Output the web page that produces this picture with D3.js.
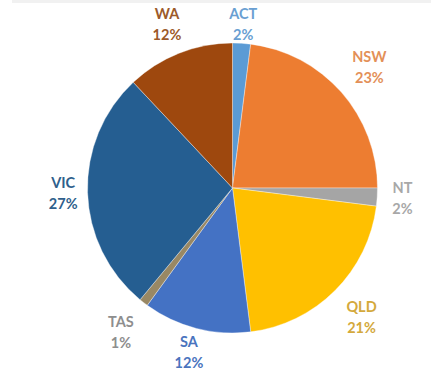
<!DOCTYPE html>
<html>
<head>
<meta charset="utf-8">
<script src="https://cdn.jsdelivr.net/npm/d3@7"></script>
<style>
  html, body { margin: 0; padding: 0; background: #ffffff; }
  svg { display: block; }
</style>
</head>
<body>
<svg id="chart" width="431" height="373"></svg>
<script>
// Share of total by state / territory
const states = ["ACT", "NSW", "NT", "QLD", "SA", "TAS", "VIC", "WA"];
const shares = [2, 23, 2, 21, 12, 1, 27, 12];
const sliceColors = ["#5B9BD5", "#ED7D31", "#A5A5A5", "#FFC000", "#4472C4", "#998864", "#255E91", "#9E480E"];
const labelColors = ["#6A9FD2", "#E39058", "#A8A8A8", "#D4A93C", "#4A74BE", "#8E8E8E", "#2F5F8C", "#9C5A2A"];

const width = 431, height = 373;
const cx = 232.5, cy = 188, radius = 145;

const svg = d3.select("#chart");

// faint header strip along the top edge
svg.append("rect")
  .attr("x", 12).attr("y", 0)
  .attr("width", width - 12).attr("height", 3)
  .attr("fill", "#f1f1f1");

const data = states.map((s, i) => ({ state: s, value: shares[i], i }));

const pie = d3.pie().value(d => d.value).sort(null);
const arcs = pie(data);

const arc = d3.arc().innerRadius(0).outerRadius(radius);

const g = svg.append("g").attr("transform", `translate(${cx},${cy})`);

g.selectAll("path.slice")
  .data(arcs)
  .join("path")
  .attr("class", "slice")
  .attr("d", arc)
  .attr("fill", d => sliceColors[d.data.i])
  .attr("stroke", "#ffffff")
  .attr("stroke-width", 0.6)
  .attr("stroke-opacity", 0.6);

// Labels sit outside the rim; a two-line text box needs more room on the diagonals.
// Boxes are kept inside the drawing area vertically.
function labelPos(d) {
  const a = (d.startAngle + d.endAngle) / 2;
  const r = radius + 23.5 + 14 * Math.abs(Math.sin(2 * a));
  const x = Math.sin(a) * r;
  let y = -Math.cos(a) * r;
  y = Math.max(-cy + 24, Math.min(height - cy - 21, y));
  return [x, y];
}

const labels = g.selectAll("text.lbl")
  .data(arcs)
  .join("text")
  .attr("class", "lbl")
  .attr("transform", d => `translate(${labelPos(d)})`)
  .attr("text-anchor", "middle")
  .attr("font-family", "Lato, 'Open Sans', sans-serif")
  .attr("font-weight", 700)
  .attr("font-size", "14.5px")
  .attr("fill", d => labelColors[d.data.i]);

labels.append("tspan")
  .attr("x", 0).attr("y", -5.3)
  .text(d => d.data.state);

labels.append("tspan")
  .attr("x", 0).attr("y", 15.7)
  .text(d => d.data.value + "%");
</script>
</body>
</html>
